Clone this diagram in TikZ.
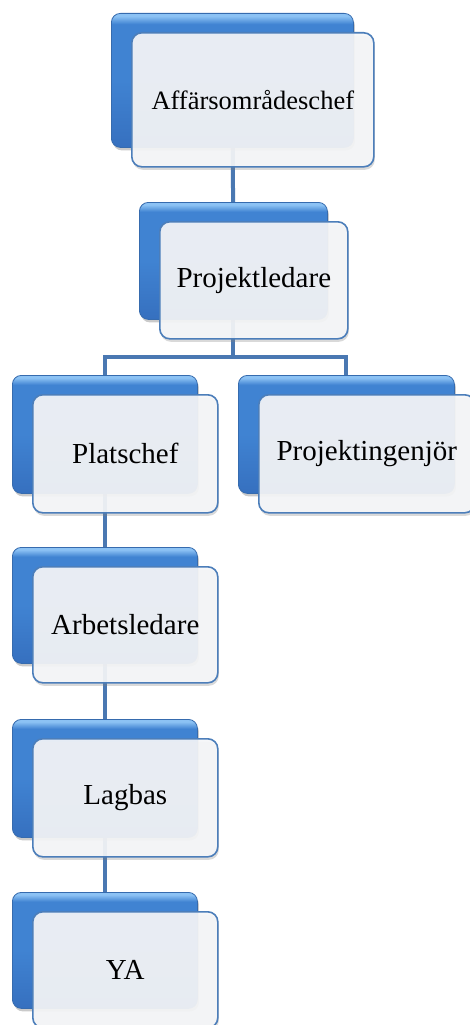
\documentclass[tikz,border=0pt]{standalone}
\usepackage{fontspec}
\setmainfont{Liberation Serif}
\newfontfamily\tnr{Liberation Serif}
\usetikzlibrary{shadows}
\definecolor{btop}{HTML}{8CC2F4}
\definecolor{bmid}{HTML}{4083D2}
\definecolor{bbot}{HTML}{3670BF}
\definecolor{bedge}{HTML}{366BAE}
\definecolor{ffill}{HTML}{F5F6F8}
\definecolor{fedge}{HTML}{4C7EBA}
\definecolor{conncol}{HTML}{4A78B2}
\pgfdeclareverticalshading{backshade}{100bp}{color(0bp)=(bbot); color(25bp)=(bbot); color(50bp)=(bmid); color(71bp)=(bmid); color(74bp)=(btop); color(100bp)=(btop)}
\pgfdeclarelayer{background}
\pgfsetlayers{background,main}
\tikzset{
  backbox/.style={shading=backshade, draw=bedge, line width=0.8pt, rounded corners=9pt, inner sep=0pt,
    drop shadow={shadow xshift=1.5pt, shadow yshift=-3pt, opacity=0.35, fill=black!60}},
  frontbox/.style={fill=ffill, fill opacity=0.92, text opacity=1, text=black, draw=fedge, line width=1.6pt, rounded corners=10pt, inner sep=0pt,
    font=\tnr\fontsize{29}{34}\selectfont,
    drop shadow={shadow xshift=1pt, shadow yshift=-3pt, opacity=0.3, fill=black!50}},
  conn/.style={draw=conncol, line width=4pt},
}
\newcommand\orgunit[7][]{%
  \node[backbox, minimum width=#5pt, minimum height=#6pt, anchor=north west] (#2B) at (#3,#4) {};
  \node[frontbox, minimum width=#5pt, minimum height=#6pt, anchor=north west, #1] (#2) at (#3+20,#4+19) {#7};
}
\begin{document}
\begin{tikzpicture}[x=1pt,y=-1pt]
\useasboundingbox (0,0) rectangle (470,1025);
\orgunit[font=\tnr\fontsize{26.5}{30}\selectfont]{aff}{111}{13}{242}{134}{Affärsområdeschef}
\orgunit{proj}{139}{202}{188}{117}{Projektledare}
\orgunit{plat}{12}{375}{185}{118}{Platschef}
\orgunit{ping}{238}{375}{216}{118}{Projektingenjör}
\orgunit{arb}{12}{547}{185}{116}{Arbetsledare}
\orgunit{lag}{12}{719}{185}{118}{Lagbas}
\orgunit{ya}{12}{892}{185}{116}{YA}
\coordinate (bar) at (0,357);
\begin{pgfonlayer}{background}
\draw[conn] (affB.center) -- (projB.center);
\draw[conn] (projB.center) -- (projB.center |- bar);
\draw[conn] (platB.center) -- (platB.center |- bar) -- (pingB.center |- bar) -- (pingB.center);
\draw[conn] (platB.center) -- (arbB.center);
\draw[conn] (arbB.center) -- (lagB.center);
\draw[conn] (lagB.center) -- (yaB.center);
\end{pgfonlayer}
\end{tikzpicture}
\end{document}
